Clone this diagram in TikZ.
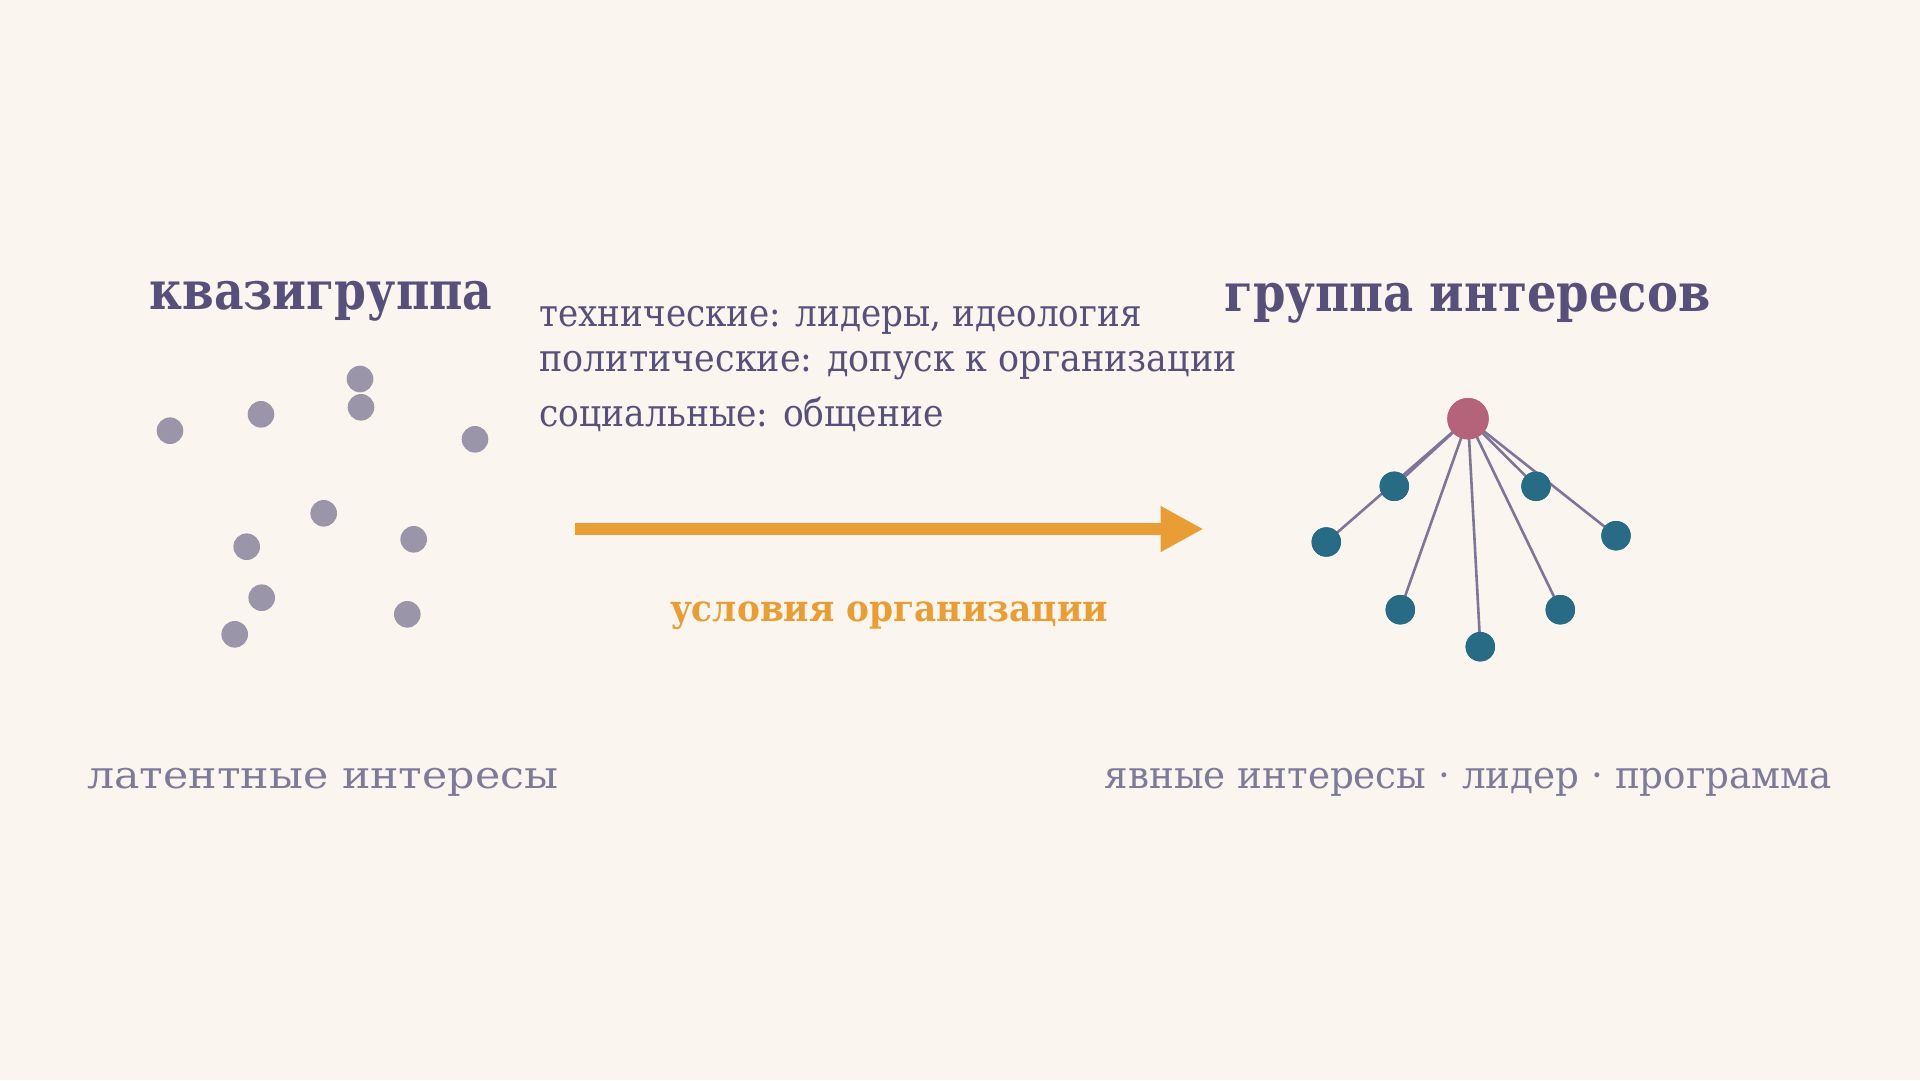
\documentclass[tikz,border=0pt]{standalone}
\usepackage{fontspec}
\setmainfont{DejaVu Serif}
\usepackage{graphicx}
\usetikzlibrary{arrows.meta}
\definecolor{bgc}{HTML}{FAF5EE}
\definecolor{titlec}{HTML}{57507A}
\definecolor{bodyc}{HTML}{57507A}
\definecolor{subc}{HTML}{7E7A99}
\definecolor{dotc}{HTML}{9A95A8}
\definecolor{orangec}{HTML}{E99E35}
\definecolor{hubc}{HTML}{B4637A}
\definecolor{tealc}{HTML}{276B84}
\definecolor{edgec}{HTML}{7D7698}
\newcommand\fitw[2]{\resizebox{#1}{\height}{#2}}
\tikzset{
  txt/.style={inner sep=0pt, outer sep=0pt},
  ttl/.style={txt, text=titlec, font=\fontsize{53}{62}\selectfont\bfseries, anchor=base},
  bodyt/.style={txt, text=bodyc, font=\fontsize{38}{44}\selectfont, anchor=base west},
  subt/.style={txt, text=subc, font=\fontsize{38}{44}\selectfont, anchor=base},
  dot/.style={circle, fill=dotc, draw=none, minimum size=26.6pt, inner sep=0pt},
  hubn/.style={circle, fill=hubc, draw=none, minimum size=41.4pt, inner sep=0pt},
  leaf/.style={circle, fill=tealc, draw=none, minimum size=29.4pt, inner sep=0pt},
  edge/.style={draw=edgec, line width=2.6pt},
}
\begin{document}
\begin{tikzpicture}[x=1pt,y=-1pt]
\fill[bgc] (0,0) rectangle (1920,1080);
\useasboundingbox (0,0) rectangle (1920,1080);

% titles
\node[ttl] (t1) at (321,309) {\fitw{343pt}{квазигруппа}};
\node[ttl] (t2) at (1467.5,311) {\fitw{486pt}{группа интересов}};

% conditions text
\node[bodyt] (c1) at (539.5,326.7) {\fitw{602pt}{технические: лидеры, идеология}};
\node[bodyt] (c2) at (539.5,371.7) {\fitw{697pt}{политические: допуск к организации}};
\node[bodyt] (c3) at (539.5,426.7) {\fitw{404pt}{социальные: общение}};

% scattered dots
\node[dot] (d1) at (170,430.7) {};
\node[dot] (d2) at (261,414.3) {};
\node[dot] (d3) at (360,379) {};
\node[dot] (d4) at (361,407.3) {};
\node[dot] (d5) at (475,439.3) {};
\node[dot] (d6) at (323.7,513.3) {};
\node[dot] (d7) at (246.7,546.7) {};
\node[dot] (d8) at (413.7,539.3) {};
\node[dot] (d9) at (261.7,597.7) {};
\node[dot] (d10) at (407.3,614.3) {};
\node[dot] (d11) at (234.7,634.3) {};

% arrow
\coordinate (as) at (575,529);
\coordinate (ae) at (1203.5,529);
\draw[orangec, line width=12pt, -{Triangle[length=43pt,width=43pt]}] (as) -- (ae);
\node[txt, text=orangec, font=\fontsize{37}{44}\selectfont\bfseries, anchor=base] (lab) at (889,621) {\fitw{438pt}{условия организации}};

% network
\node[hubn] (h) at (1468,418.7) {};
\node[leaf] (n1) at (1394.3,486.3) {};
\node[leaf] (n2) at (1536,486.3) {};
\node[leaf] (n3) at (1326.3,542) {};
\node[leaf] (n4) at (1616,535.7) {};
\node[leaf] (n5) at (1400.3,609.7) {};
\node[leaf] (n6) at (1560.3,609.7) {};
\node[leaf] (n7) at (1480.3,646.7) {};
\foreach \n in {n1,n2,n3,n4,n5,n6,n7} {
  \draw[edge] (h.center) -- (\n.center);
}
% redraw nodes on top of edges
\node[hubn] at (h) {};
\foreach \n in {n1,n2,n3,n4,n5,n6,n7} {
  \node[leaf] at (\n) {};
}

% bottom captions
\node[subt] (s1) at (322.8,788.3) {\fitw{471pt}{латентные интересы}};
\node[subt] (s2) at (1468.3,788.3) {\fitw{727pt}{явные интересы · лидер · программа}};
\end{tikzpicture}
\end{document}
